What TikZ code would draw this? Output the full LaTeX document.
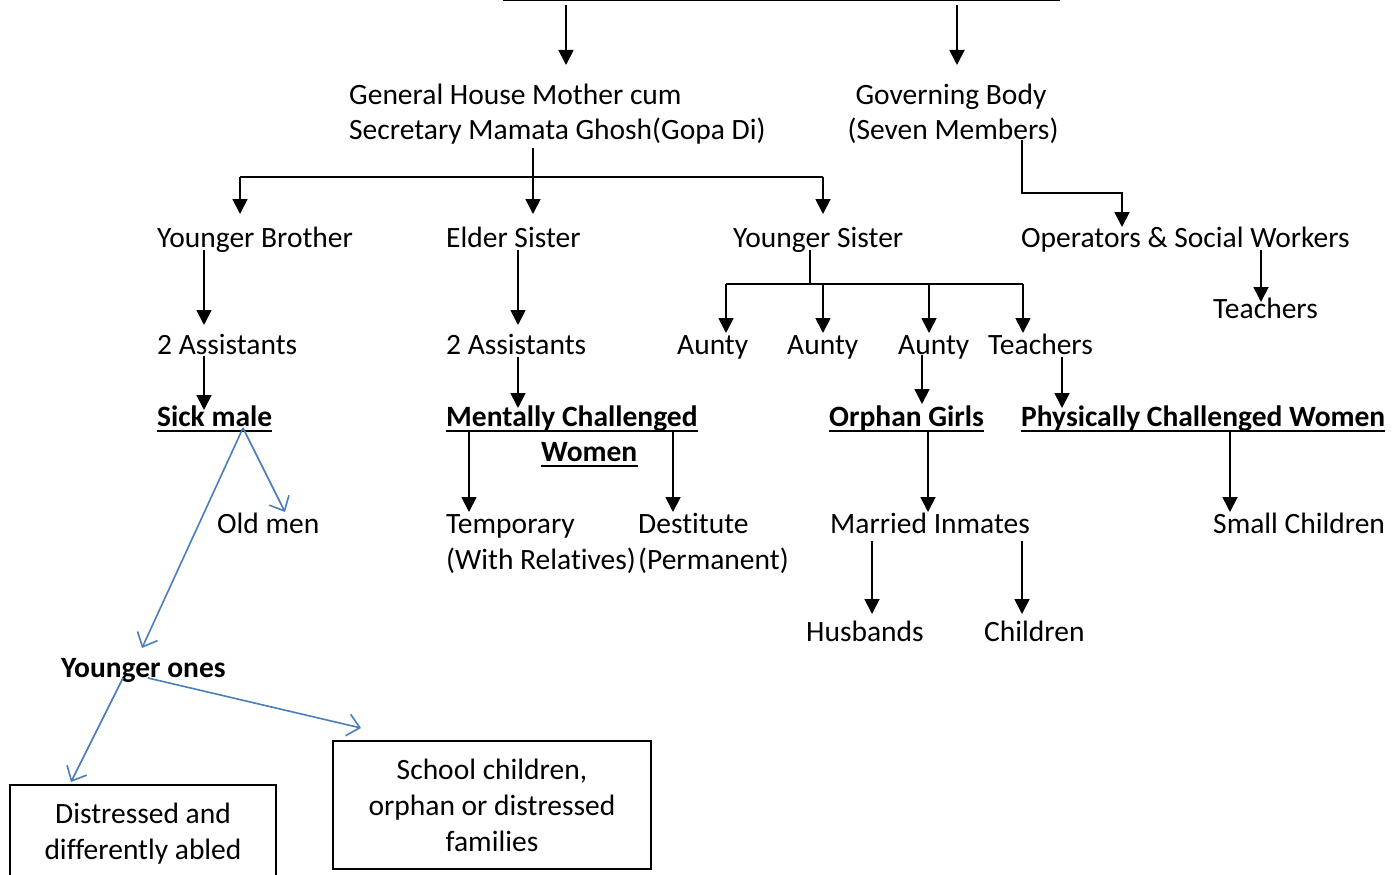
\documentclass[tikz,border=0pt]{standalone}
\usepackage{fontspec}
\setmainfont{Carlito}[Ligatures=NoCommon]
\usetikzlibrary{arrows.meta}
\definecolor{bluec}{RGB}{74,126,187}
\newcommand{\fs}{\fontsize{29.5}{36}\selectfont}
\tikzset{
  arr/.style={line width=1.8pt, -{Triangle[length=15pt,width=15pt]}},
  ln/.style={line width=1.8pt},
  blu/.style={draw=bluec, line width=1.6pt, -{Straight Barb[length=12pt,width=22pt]}},
  txt/.style={anchor=base west, inner sep=0pt, font=\fs},
  btxt/.style={txt, font=\fs\bfseries},
  uline/.style={line width=1.8pt},
  boxnode/.style={draw, line width=1.2pt, inner sep=0pt, align=center, font=\fs}
}
\begin{document}
\begin{tikzpicture}[x=1pt,y=-1pt]
\useasboundingbox (0,0) rectangle (1397,875);
% top line
\coordinate (tl) at (503,0.5); \coordinate (tr) at (1060,0.5);
\draw[ln] (tl) -- (tr);
% texts
\node[txt] (gm1) at (349,104) {General House Mother cum};
\node[txt] (gm2) at (349,139) {Secretary Mamata Ghosh(Gopa Di)};
\node[txt,anchor=base] (gb1) at (951,104) {Governing Body};
\node[txt,anchor=base] (gb2) at (953,139) {(Seven Members)};
\node[txt] (yb) at (157,247) {Younger Brother};
\node[txt] (es) at (446,247) {Elder Sister};
\node[txt] (ys) at (733,247) {Younger Sister};
\node[txt] (op) at (1021,247) {Operators \& Social Workers};
\node[txt] (t1) at (1213,318) {Teachers};
\node[txt] (a1) at (157,354) {2 Assistants};
\node[txt] (a2) at (446,354) {2 Assistants};
\node[txt] (au1) at (677,354) {Aunty};
\node[txt] (au2) at (787,354) {Aunty};
\node[txt] (au3) at (898,354) {Aunty};
\node[txt] (t2) at (988,354) {Teachers};
\node[btxt] (sm) at (157,426) {Sick male};
\node[btxt] (mc) at (446,426) {Mentally Challenged};
\node[btxt] (mw) at (541,461) {Women};
\node[btxt] (og) at (829,426) {Orphan Girls};
\node[btxt] (pc) at (1021,426) {Physically Challenged Women};
\foreach \n in {sm,mc,mw,og,pc}{
  \draw[uline] ([yshift=-5pt]\n.base west) -- ([yshift=-5pt]\n.base east);
}
\node[txt] (om) at (217,533) {Old men};
\node[txt] (tp1) at (446,533) {Temporary};
\node[txt] (tp2) at (446,569) {(With Relatives)};
\node[txt] (ds1) at (638,533) {Destitute};
\node[txt] (ds2) at (638,569) {(Permanent)};
\node[txt] (mi) at (830,533) {Married Inmates};
\node[txt] (sc) at (1213,533) {Small Children};
\node[txt] (hb) at (806,641) {Husbands};
\node[txt] (ch) at (984,641) {Children};
\node[btxt] (yo) at (61,677) {Younger ones};
\node[boxnode, minimum width=266pt, minimum height=97pt] (bx1) at (143,833.5) {Distressed and\\differently abled};
\node[boxnode, minimum width=318pt, minimum height=128pt] (bx2) at (492,805) {School children,\\orphan or distressed\\families};
% black connectors
\coordinate (c1a) at (566,5);  \coordinate (c1b) at (566,65);
\coordinate (c2a) at (957,5);  \coordinate (c2b) at (957,65);
\draw[arr] (c1a) -- (c1b);
\draw[arr] (c2a) -- (c2b);
\coordinate (m0) at (533,148); \coordinate (mj) at (533,177);
\coordinate (ml) at (240,177); \coordinate (mr) at (823,177);
\coordinate (mlb) at (240,214); \coordinate (mcb) at (533,214); \coordinate (mrb) at (823,214);
\draw[ln] (ml) -- (mr);
\draw[arr] (m0) -- (mcb);
\draw[arr] (ml) -- (mlb);
\draw[arr] (mr) -- (mrb);
\coordinate (g0) at (1022,140); \coordinate (g1) at (1122,227);
\draw[arr] (g0) |- (1122,193) -- (g1);
\coordinate (o0) at (1261,250); \coordinate (o1) at (1261,302);
\draw[arr] (o0) -- (o1);
\coordinate (yb0) at (204,250); \coordinate (yb1) at (204,325);
\draw[arr] (yb0) -- (yb1);
\coordinate (a10) at (204,356); \coordinate (a11) at (204,410);
\draw[arr] (a10) -- (a11);
\coordinate (es0) at (518,250); \coordinate (es1) at (518,325);
\draw[arr] (es0) -- (es1);
\coordinate (a20) at (518,357); \coordinate (a21) at (518,408);
\draw[arr] (a20) -- (a21);
\coordinate (ys0) at (810,250); \coordinate (ysj) at (810,284);
\coordinate (ysl) at (726,284); \coordinate (ysr) at (1023,284);
\draw[ln] (ys0) -- (ysj);
\draw[ln] (ysl) -- (ysr);
\foreach \x in {726,823,929,1023}{
  \coordinate (d\x) at (\x,333);
  \draw[arr] (\x,284) -- (d\x);
}
\coordinate (au30) at (922,355); \coordinate (au31) at (922,404);
\draw[arr] (au30) -- (au31);
\coordinate (t20) at (1062,357); \coordinate (t21) at (1062,408);
\draw[arr] (t20) -- (t21);
\coordinate (mc10) at (469,430); \coordinate (mc11) at (469,512);
\draw[arr] (mc10) -- (mc11);
\coordinate (mc20) at (673,430); \coordinate (mc21) at (673,512);
\draw[arr] (mc20) -- (mc21);
\coordinate (og0) at (928,430); \coordinate (og1) at (928,512);
\draw[arr] (og0) -- (og1);
\coordinate (pc0) at (1230,430); \coordinate (pc1) at (1230,512);
\draw[arr] (pc0) -- (pc1);
\coordinate (mi10) at (872,541); \coordinate (mi11) at (872,614);
\draw[arr] (mi10) -- (mi11);
\coordinate (mi20) at (1022,541); \coordinate (mi21) at (1022,614);
\draw[arr] (mi20) -- (mi21);
% blue connectors
\coordinate (sm0) at (243,428);
\coordinate (omt) at (285,512);
\coordinate (yot) at (142,648);
\draw[blu] (sm0) -- (omt);
\draw[blu] (sm0) -- (yot);
\coordinate (yo1) at (123,678); \coordinate (bx1t) at (71,782);
\coordinate (yo2) at (148,678); \coordinate (bx2t) at (361,728);
\draw[blu] (yo1) -- (bx1t);
\draw[blu] (yo2) -- (bx2t);
\end{tikzpicture}
\end{document}
